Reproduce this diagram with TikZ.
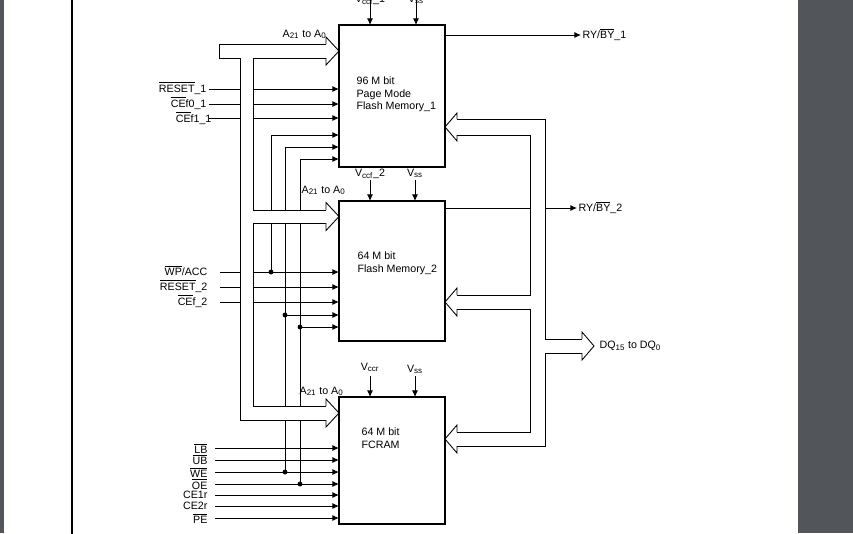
\documentclass[tikz,border=0pt]{standalone}
\usepackage{fontspec}
\setmainfont{Liberation Sans}
\usetikzlibrary{arrows.meta}
\definecolor{side}{HTML}{52565A}
\newcommand{\ovl}[1]{$\overline{\hbox{#1}}$}
\newcommand{\sbs}[1]{\textsubscript{#1}}
\begin{document}
\begin{tikzpicture}[x=0.75pt,y=-0.75pt,
  txt/.style={font=\fontsize{8}{9.6}\selectfont, inner sep=1pt},
  ln/.style={line width=0.65pt},
  arr/.style={ln,-{Latex[length=5pt,width=4.5pt]}},
  dot/.style={circle, fill, inner sep=1.3pt}]
\useasboundingbox (0,0) rectangle (853,533);
\fill[white] (0,0) rectangle (853,533);
\fill[side] (0,0) rectangle (4,533);
\fill[side] (798,0) rectangle (853,533);
\draw[line width=1.3pt] (72,-2) -- (72,535);
% boxes
\draw[line width=1.5pt] (339,25) rectangle (445,167);
\draw[line width=1.5pt] (339,201) rectangle (445,341);
\draw[line width=1.5pt] (339,397) rectangle (445,524);
\node[txt,anchor=north west,align=left] (t1) at (355,75) {96 M bit\\Page Mode\\Flash Memory\_1};
\node[txt,anchor=north west,align=left] (t2) at (356,250) {64 M bit\\Flash Memory\_2};
\node[txt,anchor=north west,align=left] (t3) at (360,426) {64 M bit\\FCRAM};
% supply
\node[txt,anchor=base] (v1) at (370,2) {V\sbs{ccf}\_1};
\node[txt,anchor=base] (s1) at (416,2) {V\sbs{ss}};
\draw[arr] (370,0) -- (370,25);
\draw[arr] (416,0) -- (416,25);
\node[txt,anchor=base] (v2) at (370,176) {V\sbs{ccf}\_2};
\node[txt,anchor=base] (s2) at (415,176) {V\sbs{ss}};
\draw[arr] (370,180) -- (370,201);
\draw[arr] (415,180) -- (415,201);
\node[txt,anchor=base] (v3) at (370,370) {V\sbs{ccr}};
\node[txt,anchor=base] (s3) at (415,372) {V\sbs{ss}};
\draw[arr] (370,376) -- (370,397);
\draw[arr] (415,376) -- (415,397);
% address buses
\node[txt,anchor=base east] (a1) at (328,37) {A\sbs{21} to A\sbs{0}};
\node[txt,anchor=base east] (a2) at (347,193) {A\sbs{21} to A\sbs{0}};
\node[txt,anchor=base east] (a3) at (345,394) {A\sbs{21} to A\sbs{0}};
\draw[ln] (326,44)--(219,44)--(219,58)--(240,58)--(240,420)--(326,420);
\draw[ln] (326,58)--(253,58)--(253,210)--(326,210);
\draw[ln] (326,223)--(253,223)--(253,406)--(326,406);
\foreach \y/\a/\b in {51/44/58,216.5/210/223,413/406/420}
  \draw[ln] (326,\a)--(326,\y-14)--(339,\y)--(326,\y+14)--(326,\b);
% data bus
\draw[ln] (457,119)--(545,119)--(545,339)--(582,339);
\draw[ln] (457,135)--(530,135)--(530,295)--(457,295);
\draw[ln] (457,309)--(530,309)--(530,432)--(457,432);
\draw[ln] (457,446)--(545,446)--(545,353)--(582,353);
\foreach \y/\a/\b in {127/119/135,302/295/309,439/432/446}
  \draw[ln] (457,\a)--(457,\y-14)--(445,\y)--(457,\y+14)--(457,\b);
\draw[ln] (582,339)--(582,332)--(594,346)--(582,360)--(582,353);
\node[txt,anchor=west] (dq) at (598,346) {DQ\sbs{15} to DQ\sbs{0}};
% ready/busy
\node[txt,anchor=west] (r1) at (581,35) {RY/\ovl{BY}\_1};
\node[txt,anchor=west] (r2) at (577,208) {RY/\ovl{BY}\_2};
\draw[arr] (445,35) -- (r1.west);
\draw[ln] (445,208) -- (530,208);
\draw[arr] (545,208) -- (r2.west);
% box1 inputs
\node[txt,anchor=east] (c1) at (208,88) {\ovl{RESET}\_1};
\node[txt,anchor=east] (c2) at (208,103) {\ovl{CE}f0\_1};
\node[txt,anchor=east] (c3) at (213,118) {\ovl{CE}f1\_1};
\foreach \y in {89,104,118} {
  \draw[ln] (209,\y)--(240,\y);
  \draw[arr] (253,\y)--(339,\y);}
\draw[arr] (271,135)--(339,135);
\draw[arr] (285,147)--(339,147);
\draw[arr] (300,159)--(339,159);
\draw[ln] (271,135)--(271,210) (271,223)--(271,272);
\draw[ln] (285,147)--(285,210) (285,223)--(285,406) (285,420)--(285,472);
\draw[ln] (300,159)--(300,210) (300,223)--(300,406) (300,420)--(300,484);
% box2 inputs
\node[txt,anchor=east] (w1) at (209,271) {\ovl{WP}/ACC};
\node[txt,anchor=east] (w2) at (209,286) {\ovl{RESET}\_2};
\node[txt,anchor=east] (w3) at (209,301) {\ovl{CE}f\_2};
\foreach \y in {272,287,302} {
  \draw[ln] (220,\y)--(240,\y);
  \draw[arr] (253,\y)--(339,\y);}
\node[dot] (d1) at (271,272) {};
\node[dot] (d2) at (285,315) {};
\node[dot] (d3) at (300,327) {};
\draw[arr] (d2.center)--(339,315);
\draw[arr] (d3.center)--(339,327);
% box3 inputs
\foreach \y/\t in {448/\ovl{LB},460/\ovl{UB},472/\ovl{WE},484/\ovl{OE},495/CE1r,506/CE2r,518/\ovl{PE}} {
  \node[txt,anchor=east] at (209,\y) {\t};
  \draw[arr] (215,\y)--(339,\y);}
\node[dot] (d4) at (285,472) {};
\node[dot] (d5) at (300,484) {};
\end{tikzpicture}
\end{document}
